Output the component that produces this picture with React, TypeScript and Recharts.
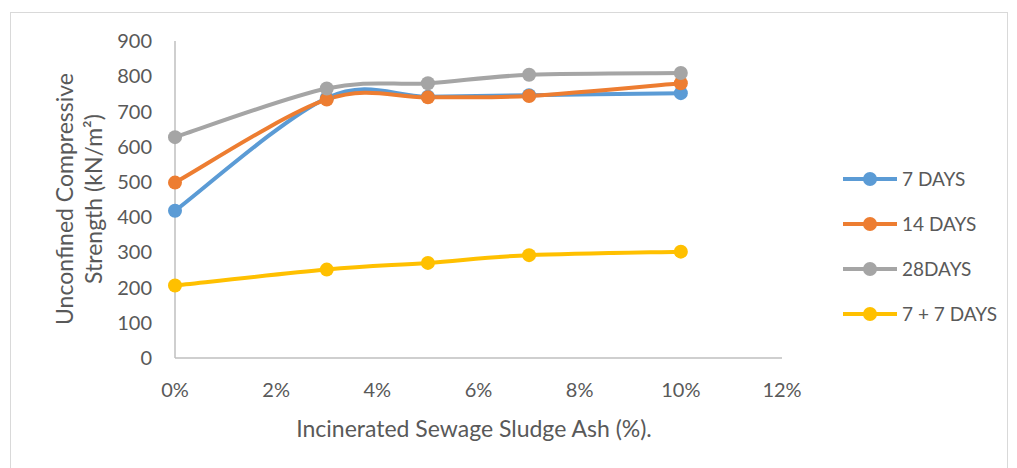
import { LineChart, Line, XAxis, YAxis, Label } from 'recharts';

// Incinerated sewage sludge ash content (%)
const ashContent = [0, 3, 5, 7, 10];
const xTicks = [0, 2, 4, 6, 8, 10, 12];
const yTicks = [0, 100, 200, 300, 400, 500, 600, 700, 800, 900];

// UCS values (kN/m²)
const days7 = [418, 738, 742, 746, 752];
const days14 = [498, 734, 740, 744, 780];
const days28 = [627, 765, 780, 804, 809];
const days7plus7 = [206, 251, 270, 292, 302];

const SERIES = [
  { key: 'd7', name: '7 DAYS', color: '#5B9BD5' },
  { key: 'd14', name: '14 DAYS', color: '#ED7D31' },
  { key: 'd28', name: '28DAYS', color: '#A5A5A5' },
  { key: 'd77', name: '7 + 7 DAYS', color: '#FFC000' },
];

const chartData = ashContent.map((x, i) => ({
  x,
  d7: days7[i],
  d14: days14[i],
  d28: days28[i],
  d77: days7plus7[i],
}));

const FONT = 'Lato, "Open Sans", sans-serif';
const TEXT = '#595959';

// Excel-like smoothed line (Catmull-Rom through the points)
const excelSmooth = (context: any) => {
  let pts: number[][] = [];
  return {
    areaStart() {},
    areaEnd() {},
    lineStart() {
      pts = [];
    },
    point(x: number, y: number) {
      pts.push([+x, +y]);
    },
    lineEnd() {
      if (!pts.length) return;
      context.moveTo(pts[0][0], pts[0][1]);
      for (let i = 0; i < pts.length - 1; i++) {
        const p0 = pts[i - 1] || pts[i];
        const p1 = pts[i];
        const p2 = pts[i + 1];
        const p3 = pts[i + 2] || pts[i + 1];
        context.bezierCurveTo(
          p1[0] + (p2[0] - p0[0]) / 6,
          p1[1] + (p2[1] - p0[1]) / 6,
          p2[0] - (p3[0] - p1[0]) / 6,
          p2[1] - (p3[1] - p1[1]) / 6,
          p2[0],
          p2[1]
        );
      }
    },
  };
};

const LegendBox = () => (
  <div style={{ position: 'absolute', left: 842, top: 156, fontFamily: FONT, fontSize: 19, color: TEXT }}>
    {SERIES.map((s) => (
      <div key={s.key} style={{ display: 'flex', alignItems: 'center', height: 45 }}>
        <svg width={56} height={16}>
          <line x1={1} y1={8} x2={55} y2={8} stroke={s.color} strokeWidth={4} />
          <circle cx={28} cy={8} r={7} fill={s.color} />
        </svg>
        <span style={{ marginLeft: 4 }}>{s.name}</span>
      </div>
    ))}
  </div>
);

const YTitle = () => (
  <g fontFamily={FONT} fontSize={23} fill={TEXT}>
    <text x={64} y={199} textAnchor="middle" dominantBaseline="central" transform="rotate(-90 64 199)">
      Unconfined Compressive
    </text>
    <text x={93} y={199} textAnchor="middle" dominantBaseline="central" transform="rotate(-90 93 199)">
      Strength (kN/m²)
    </text>
  </g>
);

export default function App() {
  return (
    <div style={{ position: 'absolute', left: 0, top: 0, width: 1017, height: 468, background: '#fff', overflow: 'hidden' }}>
      <div
        style={{
          position: 'absolute',
          left: 10,
          top: 12,
          width: 996,
          height: 470,
          border: '1px solid #d9d9d9',
        }}
      />
      <div style={{ position: 'absolute', left: 0, top: 0 }}>
        <LineChart width={1017} height={468} data={chartData} margin={{ top: 41, right: 235, bottom: 0, left: 0 }}>
          <XAxis
            dataKey="x"
            type="number"
            domain={[0, 12]}
            ticks={xTicks}
            tickFormatter={(v) => `${v}%`}
            height={110}
            tickLine={false}
            tickMargin={19}
            stroke="#bfbfbf"
            strokeWidth={1.5}
            tick={{ fill: TEXT, fontSize: 20, fontFamily: FONT }}
          >
            <Label
              content={() => (
                <text x={474} y={428} textAnchor="middle" dominantBaseline="central" fontFamily={FONT} fontSize={23} fill={TEXT}>
                  Incinerated Sewage Sludge Ash (%).
                </text>
              )}
            />
          </XAxis>
          <YAxis
            type="number"
            domain={[0, 900]}
            ticks={yTicks}
            width={175}
            tickLine={false}
            tickMargin={17}
            stroke="#bfbfbf"
            strokeWidth={1.5}
            tick={{ fill: TEXT, fontSize: 20, fontFamily: FONT }}
          >
            <Label content={() => <YTitle />} />
          </YAxis>
          {SERIES.map((s) => (
            <Line
              key={s.key}
              dataKey={s.key}
              name={s.name}
              type={excelSmooth as any}
              stroke={s.color}
              strokeWidth={4}
              dot={{ r: 7, fill: s.color, stroke: s.color, strokeWidth: 0 }}
              isAnimationActive={false}
            />
          ))}
        </LineChart>
      </div>
      <LegendBox />
    </div>
  );
}
